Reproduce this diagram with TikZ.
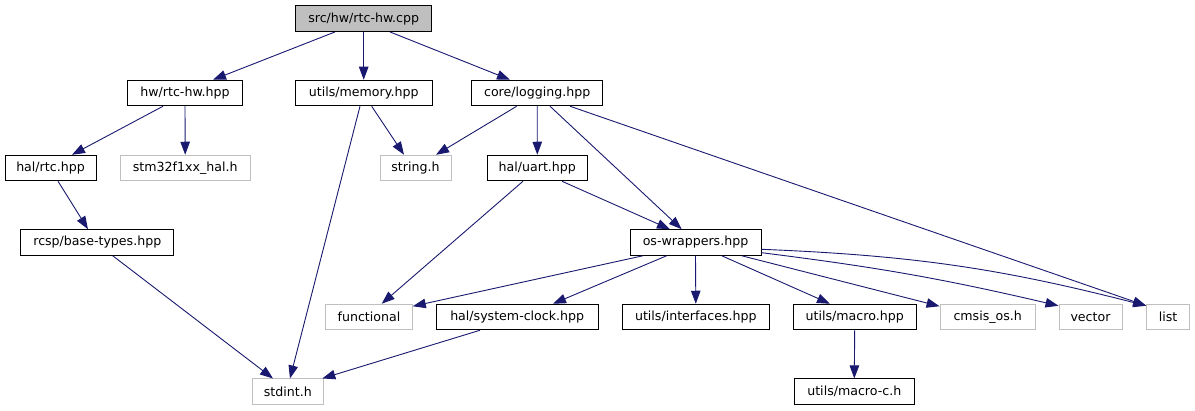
\documentclass[tikz,border=0pt]{standalone}
\usepackage{fontspec}
\setmainfont{DejaVu Sans}
\usetikzlibrary{arrows.meta}
\definecolor{edgeblue}{HTML}{191970}
\definecolor{greyseven}{HTML}{BFBFBF}
\tikzset{
  box/.style={draw=black, line width=1pt, minimum height=25.5pt, inner sep=0pt, text=black, font=\fontsize{12.6}{15}\selectfont},
  extbox/.style={box, draw=greyseven},
  rootbox/.style={box, fill=greyseven},
  edge/.style={draw=edgeblue, line width=0.9pt, -{Triangle[length=13pt,width=9.5pt]}}
}
\begin{document}
\begin{tikzpicture}[x=1pt,y=-1pt]
\useasboundingbox (0,0) rectangle (1195,411);
\fill[white] (0,0) rectangle (1195,411);
% nodes
\node[rootbox, minimum width=136pt] (cpp) at (363.7,18.7) {src/hw/rtc-hw.cpp};
\node[box, minimum width=114.6pt] (rtchpp) at (185,93) {hw/rtc-hw.hpp};
\node[box, minimum width=137.3pt] (memory) at (363.7,93) {utils/memory.hpp};
\node[box, minimum width=131pt] (logging) at (537.2,93) {core/logging.hpp};
\node[box, minimum width=91pt] (halrtc) at (50.5,168) {hal/rtc.hpp};
\node[extbox, minimum width=130.3pt] (stm) at (185.2,168) {stm32f1xx\_hal.h};
\node[extbox, minimum width=71pt] (string) at (415.5,168) {string.h};
\node[box, minimum width=100pt] (uart) at (537.3,168) {hal/uart.hpp};
\node[box, minimum width=153.3pt] (basetypes) at (97.3,242.5) {rcsp/base-types.hpp};
\node[box, minimum width=131pt] (oswrap) at (695.5,242.5) {os-wrappers.hpp};
\node[extbox, minimum width=86.6pt] (functional) at (369,317) {functional};
\node[box, minimum width=162.3pt] (sysclock) at (517.2,317) {hal/system-clock.hpp};
\node[box, minimum width=147pt] (interfaces) at (695.8,317) {utils/interfaces.hpp};
\node[box, minimum width=122.7pt] (macro) at (854.7,317) {utils/macro.hpp};
\node[extbox, minimum width=95.3pt] (cmsis) at (987.7,317) {cmsis\_os.h};
\node[extbox, minimum width=63pt] (vector) at (1090.5,317) {vector};
\node[extbox, minimum width=42.6pt] (list) at (1168,317) {list};
\node[extbox, minimum width=71pt] (stdint) at (287.8,391.7) {stdint.h};
\node[box, minimum width=120pt] (macroc) at (854.3,391.7) {utils/macro-c.h};
% edges
\draw[edge] ([xshift=-28.7pt]cpp.south) -- ([xshift=28pt]rtchpp.north);
\draw[edge] (cpp.south) -- (memory.north);
\draw[edge] ([xshift=26.3pt]cpp.south) -- ([xshift=-27.2pt]logging.north);
\draw[edge] ([xshift=-22pt]rtchpp.south) -- ([xshift=21.5pt]halrtc.north);
\draw[edge] (rtchpp.south) -- (stm.north);
\draw[edge] ([xshift=8pt]memory.south) -- ([xshift=-11.5pt]string.north);
\draw[edge] ([xshift=-3.7pt]memory.south) -- ([xshift=2.2pt]stdint.north);
\draw[edge] ([xshift=-20.5pt]logging.south) -- ([xshift=20.5pt]string.north);
\draw[edge] (logging.south) -- (uart.north);
\draw[edge] ([xshift=12.8pt]logging.south) -- ([xshift=-13.8pt]oswrap.north);
\draw[edge] ([xshift=32.8pt]logging.south) -- ([yshift=-2pt]list.north west);
\draw[edge] ([xshift=7.5pt]halrtc.south) -- ([xshift=-9.3pt]basetypes.north);
\draw[edge] ([xshift=-14.3pt]uart.south) -- ([xshift=12.7pt]functional.north);
\draw[edge] ([xshift=24.7pt]uart.south) -- ([xshift=-25.5pt]oswrap.north);
\draw[edge] ([xshift=15.4pt]basetypes.south) -- ([xshift=-14.8pt]stdint.north);
\draw[edge] ([xshift=-52.5pt]oswrap.south) -- ([yshift=-2.5pt]functional.north east);
\draw[edge] ([xshift=-28.8pt]oswrap.south) -- ([xshift=35.8pt]sysclock.north);
\draw[edge] (oswrap.south) -- (interfaces.north);
\draw[edge] ([xshift=26.2pt]oswrap.south) -- ([xshift=-24.7pt]macro.north);
\draw[edge] ([xshift=46.2pt]oswrap.south) -- ([yshift=-2.5pt]cmsis.north west);
\draw[edge] ([yshift=-10.2pt]oswrap.east) to[bend left=3] ([yshift=-2pt]vector.north west);
\draw[edge] ([yshift=-6.8pt]oswrap.east) to[bend left=6] ([yshift=-2pt]list.north west);
\draw[edge] ([xshift=-37.2pt]sysclock.south) -- ([xshift=-1.5pt]stdint.north east);
\draw[edge] (macro.south) -- (macroc.north);
\end{tikzpicture}
\end{document}
